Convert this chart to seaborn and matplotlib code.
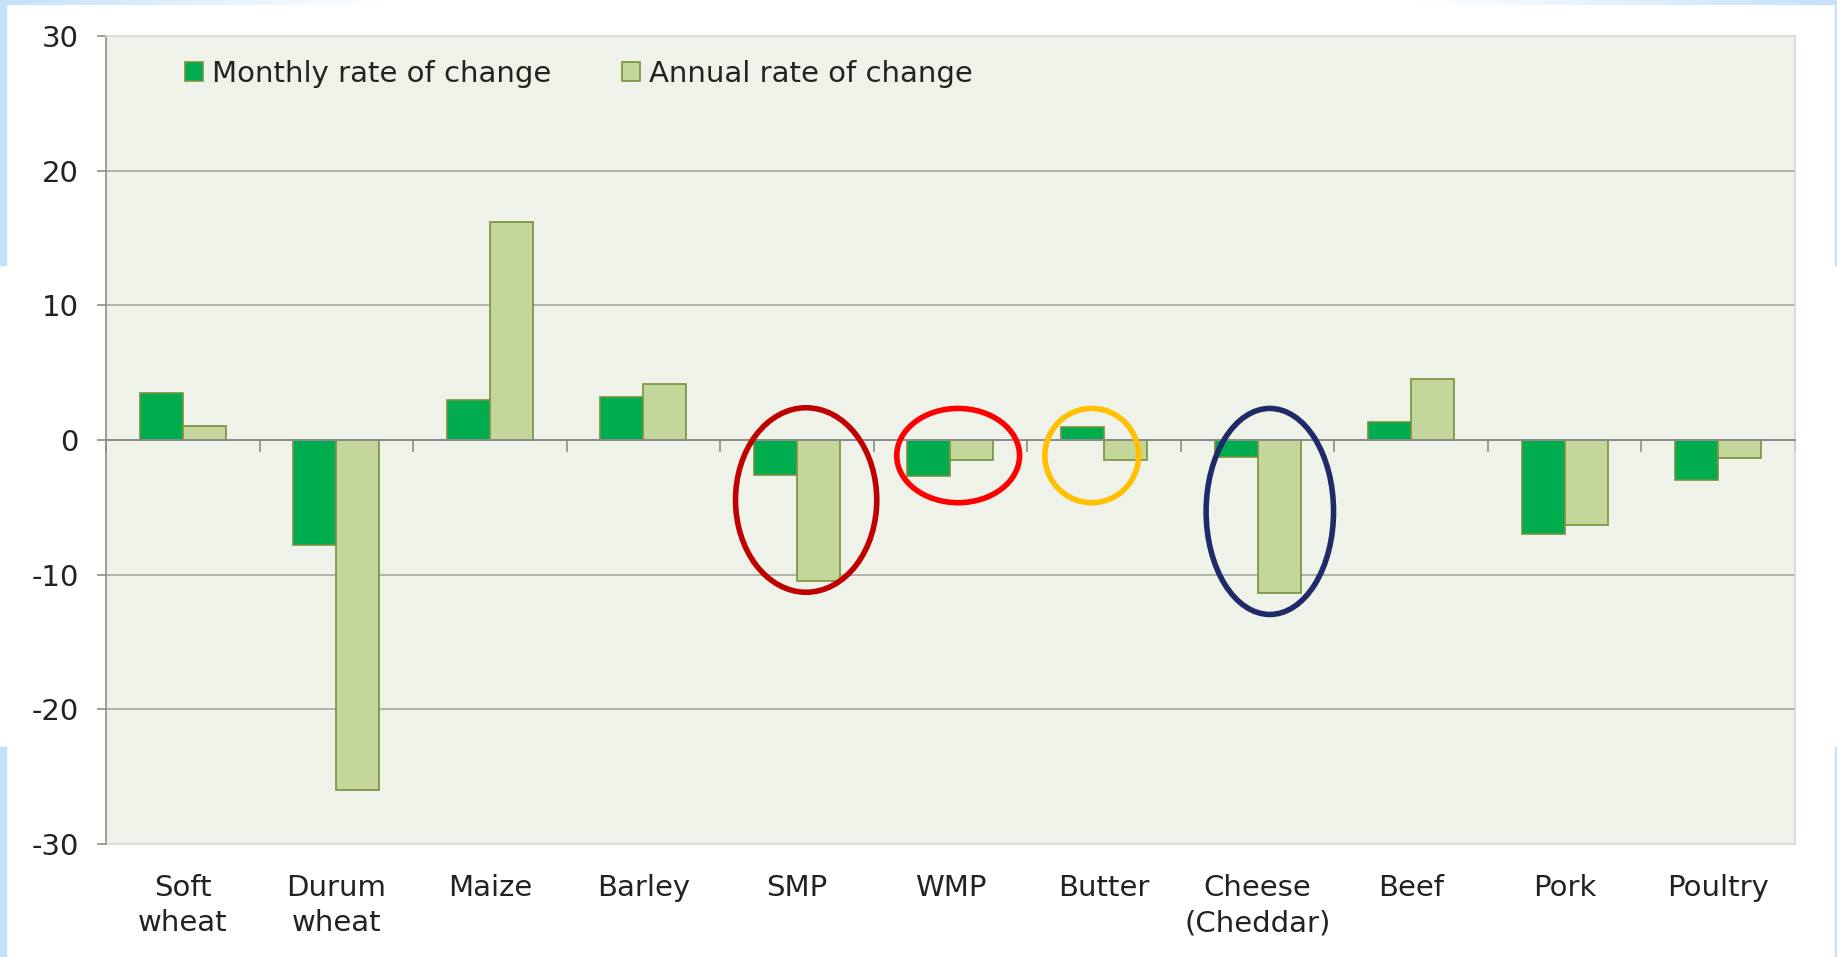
import numpy as np
import pandas as pd
import matplotlib
matplotlib.use('Agg')
import matplotlib.pyplot as plt
import seaborn as sns
from matplotlib.patches import Ellipse, Rectangle
from matplotlib.colors import LinearSegmentedColormap

# Valores (%)
products = ['Soft\nwheat', 'Durum\nwheat', 'Maize', 'Barley', 'SMP', 'WMP',
            'Butter', 'Cheese\n(Cheddar)', 'Beef', 'Pork', 'Poultry']
monthly = [3.5, -7.8, 3.0, 3.2, -2.6, -2.7, 0.95, -1.25, 1.35, -7.0, -2.95]
annual = [1.05, -26.0, 16.2, 4.15, -10.45, -1.5, -1.5, -11.35, 4.5, -6.3, -1.35]
series = ['Monthly rate of change', 'Annual rate of change']
y_ticks = [-30, -20, -10, 0, 10, 20, 30]

df = pd.DataFrame({
    'product': products * 2,
    'series': [series[0]] * len(products) + [series[1]] * len(products),
    'value': monthly + annual,
})

colors = {series[0]: '#00AD4E', series[1]: '#C4D79B'}

sns.set_style('white')
plt.rcParams['font.family'] = ['DejaVu Sans']
plt.rcParams['axes.unicode_minus'] = False
fs = 21

fig = plt.figure(figsize=(18.37, 9.57), dpi=100)
ax = fig.add_axes([0.0577, 0.118, 0.9194, 0.8443])
ax.set_facecolor('#EFF2E8')

sns.barplot(data=df, x='product', y='value', hue='series', hue_order=series,
            order=products, palette=colors, width=0.56, edgecolor='#77933C',
            linewidth=1.2, saturation=1, ax=ax)

ax.set_xlim(-0.5, len(products) - 0.5)
ax.set_ylim(y_ticks[0], y_ticks[-1])
ax.set_xlabel('')
ax.set_ylabel('')
ax.set_axisbelow(True)

# eixo y
ax.set_yticks(y_ticks)
ax.tick_params(axis='y', direction='out', length=6.5, width=1.2, color='#8c8c8c',
               pad=13, labelsize=fs, labelcolor='#222222', left=True)
ax.yaxis.grid(True, color='#A6A6A6', linewidth=1.2)
gl = ax.get_ygridlines()
gl[0].set_visible(False)
gl[-1].set_visible(False)

# eixo x cruzando em zero, com marcas entre categorias
ax.spines['bottom'].set_position(('data', 0))
ax.spines['bottom'].set_color('#8c8c8c')
ax.spines['bottom'].set_linewidth(1.4)
ax.spines['left'].set_color('#8c8c8c')
ax.spines['left'].set_linewidth(1.2)
for s in ['top', 'right']:
    ax.spines[s].set_visible(True)
    ax.spines[s].set_color('#D9D9D9')
    ax.spines[s].set_linewidth(1.2)
ax.set_xticks(range(len(products)))
ax.set_xticklabels([''] * len(products))
ax.set_xticks(np.arange(len(products) + 1) - 0.5, minor=True)
ax.tick_params(axis='x', which='major', length=0, bottom=True)
ax.tick_params(axis='x', which='minor', direction='out', length=8.5, width=1.2,
               color='#8c8c8c', bottom=True)

sec = ax.secondary_xaxis('bottom')
sec.set_xticks(range(len(products)))
sec.set_xticklabels(products)
sec.tick_params(length=0, pad=21.5, labelsize=fs, labelcolor='#222222')
sec.spines['bottom'].set_color('#D9D9D9')
sec.spines['bottom'].set_linewidth(1.2)
for t in sec.get_xticklabels():
    t.set_linespacing(1.33)

# legenda
handles, labels = ax.get_legend_handles_labels()
ax.legend(handles, labels, loc='upper left', bbox_to_anchor=(0.047, 0.971),
          ncol=2, frameon=False, fontsize=fs, handlelength=0.62, handleheight=0.62,
          handletextpad=0.28, columnspacing=2.45, borderpad=0, borderaxespad=0,
          labelcolor='#222222')

# elipses de destaque
highlights = [
    ('SMP', 0.06, -4.45, 0.92, 13.7, '#C00000'),
    ('WMP', 0.05, -1.15, 0.80, 7.0, '#FF0000'),
    ('Butter', -0.08, -1.15, 0.61, 7.0, '#FFC000'),
    ('Cheese\n(Cheddar)', 0.08, -5.3, 0.83, 15.3, '#1F2A68'),
]
for name, dx, yc, w, h, c in highlights:
    i = products.index(name)
    ax.add_patch(Ellipse((i + dx, yc), w, h, fill=False, edgecolor=c,
                         linewidth=4, zorder=5))

# moldura decorativa do slide
blue = '#C5E1F9'
fig.patches.append(Rectangle((0, 1 - 265 / 957), 6 / 1837, 265 / 957,
                             transform=fig.transFigure, color=blue, zorder=0))
fig.patches.append(Rectangle((0, 0), 6 / 1837, 1 - 747 / 957,
                             transform=fig.transFigure, color=blue, zorder=0))
fig.patches.append(Rectangle((1835 / 1837, 1 - 265 / 957), 2 / 1837, 265 / 957,
                             transform=fig.transFigure, color=blue, zorder=0))
fig.patches.append(Rectangle((1835 / 1837, 0), 2 / 1837, 1 - 747 / 957,
                             transform=fig.transFigure, color=blue, zorder=0))
top = fig.add_axes([0, 1 - 5 / 957, 1, 5 / 957])
cmap = LinearSegmentedColormap.from_list(
    'top', [(0, blue), (0.21, '#FFFFFF'), (0.77, '#FFFFFF'), (1, blue)])
top.imshow(np.linspace(0, 1, 500).reshape(1, -1), aspect='auto', cmap=cmap)
top.axis('off')

fig.savefig('out.png', dpi=100, facecolor='white')
